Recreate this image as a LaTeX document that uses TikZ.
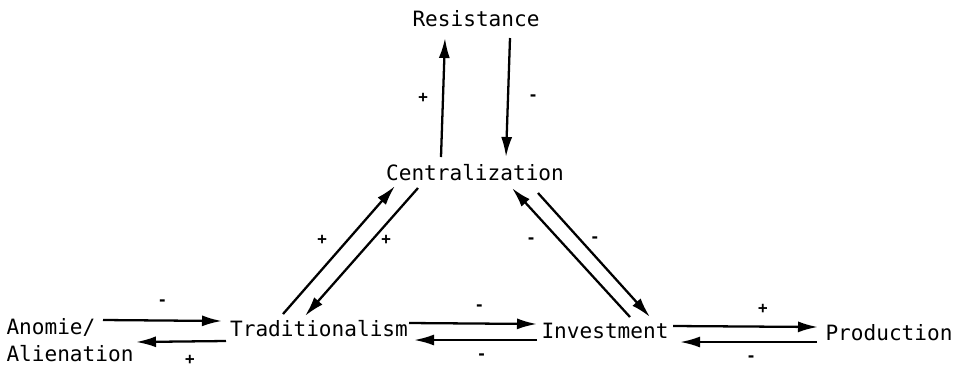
\documentclass[tikz,border=0pt]{standalone}
\usepackage{fontspec}
\setmainfont{DejaVu Sans Mono}
\usetikzlibrary{arrows.meta,positioning}

\begin{document}
\begin{tikzpicture}[
    x=0.02cm, y=-0.02cm,
    term/.style={inner sep=2pt, font=\fontsize{12}{15.3}\selectfont},
    sign/.style={inner sep=1pt, font=\small\bfseries},
    arrow/.style={-{Latex[length=4mm,width=2.2mm]}, line width=1.3pt}
  ]
    \useasboundingbox (0,0) rectangle (960,370);

    \node[term] (res) at (476,19) {Resistance};
    \node[term] (cent) at (475,173) {Centralization};
    \node[term, align=left] (anom) at (70,340) {Anomie/\\Alienation};
    \node[term] (trad) at (319,329) {Traditionalism};
    \node[term] (inv) at (605,331) {Investment};
    \node[term] (prod) at (889,333) {Production};

    % centralization and resistance
    \draw[arrow] ([shift={(-34,-16)}]cent.center) -- node[sign, left=7pt] {+} ([shift={(-31,19)}]res.center);
    \draw[arrow] ([shift={(34,19)}]res.center) -- node[sign, right=10pt] {-} ([shift={(31,-16)}]cent.center);

    % the triangle
    \draw[arrow] ([shift={(-36,-15)}]trad.center) -- node[sign, xshift=-9.6pt, yshift=5.7pt] {+} ([shift={(-80,13)}]cent.center);
    \draw[arrow] ([shift={(-57,15)}]cent.center) -- node[sign, xshift=14pt, yshift=7pt] {+} ([shift={(-14,-13)}]trad.center);
    \draw[arrow] ([shift={(25,-14)}]inv.center) -- node[sign, xshift=-22.7pt, yshift=7pt] {-} ([shift={(37,15)}]cent.center);
    \draw[arrow] ([shift={(63,20)}]cent.center) -- node[sign, xshift=0.5pt, yshift=8.5pt] {-} ([shift={(45,-14)}]inv.center);

    % bottom row
    \draw[arrow] ([shift={(33,-20)}]anom.center) -- node[sign, above=7pt] {-} ([shift={(-97,-8)}]trad.center);
    \draw[arrow] ([shift={(-93,12)}]trad.center) -- node[sign, pos=0.4, below=6pt] {+} ([shift={(66,2)}]anom.center);
    \draw[arrow] ([shift={(90,-6)}]trad.center) -- node[sign, pos=0.55, above=6pt] {-} ([shift={(-68,-7)}]inv.center);
    \draw[arrow] ([shift={(-68,9)}]inv.center) -- node[sign, pos=0.45, below=6pt] {-} ([shift={(95,11)}]trad.center);
    \draw[arrow] ([shift={(68,-5)}]inv.center) -- node[sign, pos=0.62, above=6pt] {+} ([shift={(-71,-6)}]prod.center);
    \draw[arrow] ([shift={(-72,9)}]prod.center) -- node[sign, pos=0.48, below=6pt] {-} ([shift={(75,11)}]inv.center);
\end{tikzpicture}
\end{document}
